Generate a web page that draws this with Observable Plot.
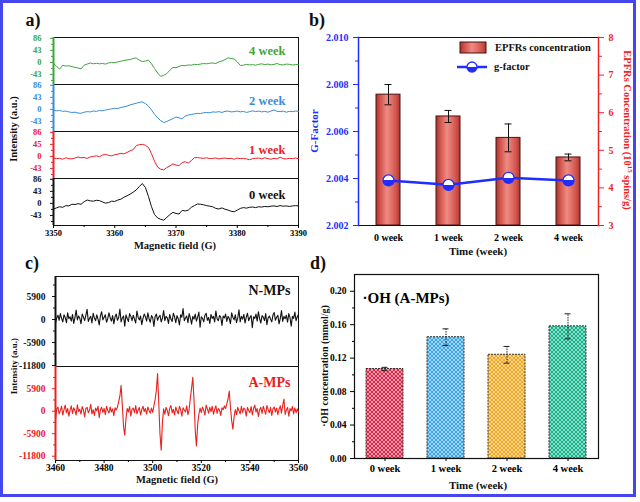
<!DOCTYPE html>
<html><head><meta charset="utf-8">
<script src="https://cdn.jsdelivr.net/npm/d3@7"></script>
<script src="https://cdn.jsdelivr.net/npm/@observablehq/plot@0.6"></script>
<style>
body{margin:0;background:#fff;}
#wrap{position:relative;width:640px;height:502px;overflow:hidden;background:#fff;font-family:"Liberation Serif","Times New Roman",serif;font-weight:bold;}
.lbl{position:absolute;white-space:nowrap;font-weight:bold;line-height:1;}
#border{position:absolute;left:0;top:0;width:636px;height:497px;box-sizing:border-box;border:3px solid #4646f0;}
</style></head>
<body>
<div id="wrap">
<svg width="0" height="0" style="position:absolute">
<defs>
<linearGradient id="epfrGrad" x1="0" y1="0" x2="1" y2="0">
<stop offset="0" stop-color="#a8362f"/><stop offset="0.18" stop-color="#d2544d"/>
<stop offset="0.45" stop-color="#ee8a82"/><stop offset="0.58" stop-color="#e77a72"/>
<stop offset="0.85" stop-color="#cf514a"/><stop offset="1" stop-color="#a8362f"/>
</linearGradient>
<linearGradient id="halfFill" x1="0" y1="0" x2="0" y2="1">
<stop offset="0" stop-color="#fff"/><stop offset="0.5" stop-color="#fff"/>
<stop offset="0.5" stop-color="#1f2dff"/><stop offset="1" stop-color="#1f2dff"/>
</linearGradient>
<pattern id="pat0" width="4" height="4" patternUnits="userSpaceOnUse"><rect width="4" height="4" fill="#e0274a"/><path d="M0,0L4,4M4,0L0,4" stroke="#fff" stroke-width="0.7" stroke-opacity="0.75"/></pattern>
<pattern id="pat1" width="4" height="4" patternUnits="userSpaceOnUse"><rect width="4" height="4" fill="#3aa6e8"/><path d="M0,0L4,4M4,0L0,4" stroke="#fff" stroke-width="0.7" stroke-opacity="0.75"/></pattern>
<pattern id="pat2" width="4" height="4" patternUnits="userSpaceOnUse"><rect width="4" height="4" fill="#f4a71c"/><path d="M0,0L4,4M4,0L0,4" stroke="#fff" stroke-width="0.7" stroke-opacity="0.75"/></pattern>
<pattern id="pat3" width="4" height="4" patternUnits="userSpaceOnUse"><rect width="4" height="4" fill="#12b38a"/><path d="M0,0L4,4M4,0L0,4" stroke="#fff" stroke-width="0.7" stroke-opacity="0.75"/></pattern>
</defs>
</svg>
<div id="border"></div>
</div>
<script>
// ---------- DATA ----------
const weeks = ["0 week", "1 week", "2 week", "4 week"];
const epfrConc = [6.48, 5.90, 5.33, 4.81];
const epfrErr = [0.27, 0.16, 0.37, 0.09];
const gFactor = [2.00392, 2.00373, 2.00403, 2.00392];
const ohConc = [0.107, 0.145, 0.124, 0.158];
const ohErr = [0.002, 0.010, 0.010, 0.015];

// panel a: EPR spectra, 3350-3390 G in 0.5 G steps
const aFieldStart = 3350, aFieldStep = 0.5;
const aWeek0 = [-20,-16,-12,-14,-8,-9,-3,-4,-1,-3,
 6,12,9,8,11,10,5,1,3,8,
 7,12,15,22,27,33,40,48,60,71,
 57,25,-12,-40,-52,-57,-60,-50,-40,-32,
 -36,-38,-25,-27,-24,-14,-8,-2,-3,-5,
 -8,-10,-12,-18,-20,-16,-21,-24,-28,-30,
 -24,-18,-15,-17,-14,-13,-15,-12,-13,-11,
 -12,-10,-9,-11,-8,-10,-9,-11,-9,-8,
 -9];
const aWeek1 = [-6,-8,-7,-10,-5,-8,-9,-6,-2,-5,
 -4,-7,-2,0,2,-1,5,7,4,2,
 6,8,11,9,14,20,24,38,42,43,
 40,32,10,-18,-38,-46,-48,-40,-34,-27,
 -31,-33,-22,-19,-24,-15,-5,-4,-6,-7,
 -5,-8,-7,-6,-9,-7,-6,-8,-7,-10,
 -6,-8,-7,-9,-12,-8,-7,-6,-9,-5,
 -8,-10,-7,-9,-3,-8,-9,-7,-8,-6,
 -8];
const aWeek2 = [-3,-5,-4,-7,-6,-9,-11,-10,-13,-14,
 -10,-8,-9,-6,-7,-4,-5,-2,0,2,
 4,3,7,9,12,16,19,22,25,27,
 21,12,-2,-18,-30,-40,-47,-43,-38,-33,
 -27,-30,-34,-24,-20,-18,-16,-14,-15,-12,
 -11,-12,-9,-10,-8,-11,-7,-6,-9,-8,
 -6,-9,-7,-11,-8,-5,-8,-6,-9,-7,
 -10,-6,-2,-7,-8,-6,-10,-7,-8,-6,
 -7];
const aWeek4 = [-4,-14,-24,-10,-13,-12,-15,-18,-20,-23,
 -10,-6,-2,-5,-3,-5,-4,-6,-2,0,
 -1,2,4,7,9,10,14,16,8,3,
 5,8,-5,-22,-38,-50,-46,-40,-28,-18,
 -19,-14,-11,-12,-9,-10,-7,-8,-6,-4,
 -5,-3,-2,-4,2,5,10,16,14,12,
 2,-11,-10,-7,-9,-8,-10,-7,-5,-8,
 -6,-9,-7,-4,-8,-9,-6,-7,-9,-8,
 -7];
const aYTicks = [86, 43, 0, -43];
const aYMinor = [64.5, 21.5, -21.5, -64.5];
const aYLabels = ["86", "43", "0", "-43"];
const aYLabels1wk = ["86", "45", "0", "-43"];
const aXTicks = [3350, 3360, 3370, 3380, 3390];
const aXMinor = [3355, 3365, 3375, 3385];

// panel c: spin-trap spectra, 3460-3560 G in 0.5 G steps
const cFieldStart = 3460, cFieldStep = 0.5;
const cNMPs = [-900,400,1100,-200,1500,300,-600,1200,500,-800,1700,200,700,-400,1300,-1000,500,2400,-100,900,
 300,-1100,1400,600,-300,1100,2600,-500,300,800,-900,1600,400,-300,1200,100,-1400,1000,2000,-100,
 600,1200,-700,200,1700,500,-400,1000,-1100,700,1400,-200,500,2700,-600,400,900,-1700,1200,300,
 -500,1500,800,-300,1100,100,-900,2200,600,-100,900,-1300,300,1400,700,-400,1700,200,-700,1000,
 500,-1800,800,1400,-200,600,1100,-600,300,2300,-300,800,400,-1000,1300,100,-500,1600,700,-800,
 1000,200,-1400,1200,600,2800,-300,400,900,-800,1500,400,-1200,800,100,1400,-400,600,1900,-2000,
 700,300,-600,1100,1600,-200,500,-1000,1300,300,800,-600,2200,200,-300,1000,600,-1500,900,400,
 1400,-500,800,300,-1100,1700,600,-100,1200,-800,400,2500,-600,800,100,1300,-900,600,1600,-300,
 500,1000,-2100,700,300,1400,-400,2000,200,-900,1000,600,-300,1500,-1300,400,900,100,-600,1200,
 1800,-200,600,1100,-1100,300,2300,-500,800,200,1100,-700,1500,500,-1700,800,300,1900,-300,700,
 1300];
const cAMPs = [-2300,600,1100,-700,200,1300,-1000,400,1600,-400,700,-1300,300,1400,-600,900,200,-1000,1700,-100,
 500,-800,1200,300,-1500,700,1000,-400,200,1800,-700,400,-1100,800,100,1300,-1700,400,1000,-300,
 700,-900,1300,200,-500,1100,-200,600,-1200,900,300,1100,2500,4000,6800,1500,-4000,-6300,-2000,700,
 -200,1200,-1300,500,800,-400,1500,-700,300,1000,-1000,400,1300,-100,700,-800,1100,200,-500,800,
 -300,1400,3000,5500,9900,2000,-6000,-10200,-3000,600,-800,1000,200,-1200,800,1500,-400,500,-1000,1100,
 100,-700,1300,400,-1300,900,300,-200,1400,-900,500,3500,6000,8900,3000,-5000,-9100,-3500,-800,800,
 -400,1100,200,-1000,1600,600,-500,1000,-100,1300,-800,400,1400,-600,700,300,-1100,900,400,1400,
 700,2000,3200,5300,1000,-2500,-4700,-1500,400,-900,1000,100,-700,1300,-300,800,500,-1300,1000,200,
 -400,1200,-1000,700,1600,-200,700,-1400,400,1000,-600,1300,200,-800,1500,400,-400,1000,-1100,600,
 1100,-200,800,-900,500,1400,-500,1600,3200,-800,300,1000,-1300,700,100,1200,-700,900,-400,600,
 -200];
const cYTicks = [5900, 0, -5900, -11800];
const cYLabels = ["5900", "0", "-5900", "-11800"];
const cYMinor = [8850, 2950, -2950, -8850];
const cXTicks = [3460, 3480, 3500, 3520, 3540, 3560];
const cXMinor = [3470, 3490, 3510, 3530, 3550];

const bLeftTicks = [2.002, 2.004, 2.006, 2.008, 2.010];
const bLeftMinor = [2.003, 2.005, 2.007, 2.009];
const bRightTicks = [3, 4, 5, 6, 7, 8];
const bRightMinor = [3.5, 4.5, 5.5, 6.5, 7.5];
const bBase = 3;
const dYTicks = [0, 0.04, 0.08, 0.12, 0.16, 0.20];
const dYMinor = [0.02, 0.06, 0.10, 0.14, 0.18];

// ---------- HELPERS ----------
const wrap = document.getElementById("wrap");
const FONT = "'Liberation Serif','Times New Roman',serif";
const baseStyle = {background: "transparent", fontFamily: FONT, fontWeight: "bold", fontSize: "10px", overflow: "visible"};
function place(el, left, top) {
  el.style.position = "absolute"; el.style.left = left + "px"; el.style.top = top + "px";
  wrap.appendChild(el);
}
function addText(html, x, y, {size = 11, color = "#111", rotate = 0, anchor = "middle"} = {}) {
  const d = document.createElement("div");
  d.className = "lbl"; d.innerHTML = html;
  d.style.left = x + "px"; d.style.top = y + "px";
  d.style.fontSize = size + "px"; d.style.color = color;
  const tx = anchor === "start" ? "0" : "-50%";
  d.style.transform = `translate(${tx},-50%) rotate(${rotate}deg)`;
  wrap.appendChild(d);
}
const toRows = (arr, start, step) => arr.map((v, i) => ({x: start + step * i, y: v}));

// ---------- PANEL A ----------
const aPanels = [
  {name: "4 week", color: "#3ea53a", values: aWeek4, labels: aYLabels},
  {name: "2 week", color: "#3a8dd6", values: aWeek2, labels: aYLabels},
  {name: "1 week", color: "#ea2229", values: aWeek1, labels: aYLabels1wk},
  {name: "0 week", color: "#111111", values: aWeek0, labels: aYLabels}
];
const aDy = [9, 12, 14, 12];
aPanels.forEach((p, i) => {
  const last = i === 3;
  const mb = last ? 26 : 0;
  const lab = new Map(aYTicks.map((t, k) => [t, p.labels[k]]));
  const marks = [
    Plot.frame({stroke: "#111", strokeWidth: 1}),
    Plot.axisY({ticks: aYTicks, tickSize: 3, tickPadding: 9, tickFormat: d => lab.get(d), color: p.color, fontSize: 8.5}),
    Plot.axisY({ticks: aYMinor, tickSize: 2, tickFormat: () => "", color: p.color}),
    Plot.line(toRows(p.values, aFieldStart, aFieldStep), {x: "x", y: "y", stroke: p.color, strokeWidth: 1}),
    Plot.text([p.name], {text: d => d, frameAnchor: "top-right", dx: -13, dy: aDy[i], fill: p.color, fontSize: 12.5, fontWeight: "bold"}),
    Plot.ruleX([aXTicks[0]], {stroke: p.color, strokeWidth: 2})
  ];
  if (last) {
    marks.push(Plot.axisX({ticks: aXTicks, tickSize: 3, tickPadding: 1, tickFormat: d => String(d), fontSize: 8.5}));
    marks.push(Plot.axisX({ticks: aXMinor, tickSize: 2, tickFormat: () => ""}));
  }
  const svg = Plot.plot({
    width: 320, height: 47 + mb, marginLeft: 53, marginRight: 22, marginTop: 0, marginBottom: mb,
    x: {domain: [3350, 3390], label: null, axis: last ? undefined : null},
    y: {domain: [-79, 89], label: null},
    style: baseStyle, marks
  });
  place(svg, 0, 37 + 47 * i);
});

// ---------- PANEL B ----------
const bData = weeks.map((w, i) => ({week: w, conc: epfrConc[i], err: epfrErr[i], g: gFactor[i]}));
const bCommon = {width: 320, height: 250, marginLeft: 38, marginRight: 42, marginTop: 37, marginBottom: 25, style: baseStyle};
const bX = {domain: weeks, paddingInner: 0.6, paddingOuter: 0.3, label: null};
const red = "#ee2424", blue = "#1f2dff";
const bBars = Plot.plot({
  ...bCommon, x: bX, y: {domain: [3, 8], label: null},
  marks: [
    Plot.barY(bData, {x: "week", y1: () => bBase, y2: "conc", fill: "url(#epfrGrad)", stroke: "#4a1210", strokeWidth: 1, clip: true}),
    Plot.ruleX(bData, {x: "week", y1: d => d.conc - d.err, y2: d => d.conc + d.err, stroke: "#111", strokeWidth: 1}),
    Plot.tickY(bData, {x: "week", y: d => d.conc + d.err, insetLeft: 8.5, insetRight: 8.5, stroke: "#111"}),
    Plot.tickY(bData, {x: "week", y: d => d.conc - d.err, insetLeft: 8.5, insetRight: 8.5, stroke: "#111"}),
    Plot.axisY({anchor: "right", ticks: bRightTicks, tickSize: 5, tickPadding: 5, tickFormat: d => String(d), color: red, fontSize: 10}),
    Plot.axisY({anchor: "right", ticks: bRightMinor, tickSize: 3, tickFormat: () => "", color: red}),
    Plot.axisX({tickSize: 0, tickPadding: 8, fontSize: 10}),
    Plot.frame({stroke: "#111", strokeWidth: 1}),
    Plot.frame({anchor: "right", stroke: red, strokeWidth: 1.5})
  ]
});
place(bBars, 320, 0);
const bG = Plot.plot({
  ...bCommon, x: {...bX, axis: null}, y: {domain: [2.002, 2.010], label: null},
  marks: [
    Plot.axisY({anchor: "left", ticks: bLeftTicks, tickSize: 5, tickPadding: 5, tickFormat: d3.format(".3f"), color: blue, fontSize: 10}),
    Plot.axisY({anchor: "left", ticks: bLeftMinor, tickSize: 3, tickFormat: () => "", color: blue}),
    Plot.line(bData, {x: "week", y: "g", stroke: blue, strokeWidth: 2.5}),
    Plot.dot(bData, {x: "week", y: "g", r: 5.5, fill: "url(#halfFill)", stroke: blue, strokeWidth: 1.3}),
    Plot.frame({anchor: "left", stroke: blue, strokeWidth: 1.5})
  ]
});
place(bG, 320, 0);
// legend
const leg = document.createElementNS("http://www.w3.org/2000/svg", "svg");
leg.setAttribute("width", 40); leg.setAttribute("height", 40);
leg.innerHTML = `<rect x="5" y="4" width="26" height="11" fill="url(#epfrGrad)" stroke="#4a1210"/>
<line x1="2" x2="32" y1="29" y2="29" stroke="${blue}" stroke-width="2.5"/>
<circle cx="17" cy="29" r="5" fill="url(#halfFill)" stroke="${blue}" stroke-width="1.3"/>`;
place(leg, 455, 38);
addText("EPFRs concentration", 495, 48, {size: 10.5, anchor: "start"});
addText("g-factor", 494, 67, {size: 10.5, anchor: "start"});

// ---------- PANEL C ----------
const cPanels = [
  {name: "N-MPs", color: "#111111", values: cNMPs, top: 276, h: 90, domain: [-12050, 11030], dy: 9},
  {name: "A-MPs", color: "#e8211e", values: cAMPs, top: 366, h: 94, domain: [-12930, 11720], dy: 11}
];
cPanels.forEach((p, i) => {
  const last = i === 1;
  const mb = last ? 26 : 0;
  const lab = new Map(cYTicks.map((t, k) => [t, cYLabels[k]]));
  const marks = [
    Plot.frame({stroke: "#111", strokeWidth: 1}),
    Plot.axisY({ticks: cYTicks, tickSize: 3, tickPadding: 7, tickFormat: d => lab.get(d), color: p.color, fontSize: 9.5}),
    Plot.axisY({ticks: cYMinor, tickSize: 2, tickFormat: () => "", color: p.color}),
    Plot.line(toRows(p.values, cFieldStart, cFieldStep), {x: "x", y: "y", stroke: p.color, strokeWidth: 1.1}),
    Plot.text([p.name], {text: d => d, frameAnchor: "top-right", dx: -8, dy: p.dy, fill: p.color, fontSize: 14, fontWeight: "bold"}),
    Plot.ruleX([cXTicks[0]], {stroke: p.color, strokeWidth: 2})
  ];
  if (last) {
    marks.push(Plot.axisX({ticks: cXTicks, tickSize: 3, tickPadding: 1, tickFormat: d => String(d), fontSize: 9.5}));
    marks.push(Plot.axisX({ticks: cXMinor, tickSize: 2, tickFormat: () => ""}));
  }
  const svg = Plot.plot({
    width: 320, height: p.h + mb, marginLeft: 55, marginRight: 22, marginTop: 0, marginBottom: mb,
    x: {domain: [3460, 3560], label: null, axis: last ? undefined : null},
    y: {domain: p.domain, label: null},
    style: baseStyle, marks
  });
  place(svg, 0, p.top);
});

// ---------- PANEL D ----------
const dData = weeks.map((w, i) => ({week: w, oh: ohConc[i], err: ohErr[i]}));
const dSvg = Plot.plot({
  width: 320, height: 236, marginLeft: 34, marginRight: 42, marginTop: 24, marginBottom: 28,
  x: {domain: weeks, paddingInner: 0.39, paddingOuter: 0.195, label: null},
  y: {domain: [0, 0.22], label: null},
  color: {domain: weeks, range: weeks.map((w, i) => `url(#pat${i})`)},
  style: baseStyle,
  marks: [
    Plot.barY(dData, {x: "week", y: "oh", fill: "week", stroke: "#333", strokeWidth: 1, strokeDasharray: "2,1"}),
    Plot.ruleX(dData, {x: "week", y1: d => d.oh - d.err, y2: d => d.oh + d.err, stroke: "#222", strokeWidth: 1, strokeDasharray: "1.5,1"}),
    Plot.tickY(dData, {x: "week", y: d => d.oh + d.err, insetLeft: 15.5, insetRight: 15.5, stroke: "#222"}),
    Plot.tickY(dData, {x: "week", y: d => d.oh - d.err, insetLeft: 15.5, insetRight: 15.5, stroke: "#222"}),
    Plot.axisY({ticks: dYTicks, tickSize: 4, tickPadding: 4, tickFormat: d3.format(".2f"), fontSize: 9.5}),
    Plot.axisY({ticks: dYMinor, tickSize: 2, tickFormat: () => ""}),
    Plot.axisX({tickSize: 3, tickPadding: 3, fontSize: 10.5}),
    Plot.text(["·OH (A-MPs)"], {text: d => d, frameAnchor: "top-left", dx: 8, dy: 18, fontSize: 15, fontWeight: "bold", textAnchor: "start"}),
    Plot.frame({stroke: "#111", strokeWidth: 1.2})
  ]
});
place(dSvg, 320, 250);

// ---------- TITLES ----------
addText("a)", 33, 20, {size: 18});
addText("b)", 317, 20, {size: 18});
addText("c)", 32, 263, {size: 18});
addText("d)", 318, 263, {size: 18});
addText("Intensity (a.u.)", 14, 129, {size: 10.5, rotate: -90});
addText("Magnetic field (G)", 175, 246, {size: 10.5});
addText("G-Factor", 314, 131, {size: 11, color: blue, rotate: -90});
addText("EPFRs Concentration (10<sup style='font-size:7px'>15</sup> spins/g)", 627, 130, {size: 10.5, color: red, rotate: 90});
addText("Time (week)", 478, 251, {size: 11});
addText("Intensity (a.u.)", 14, 366, {size: 9, rotate: -90});
addText("Magnetic field (G)", 177, 480, {size: 10.5});
addText("·OH concentration (mmol/g)", 325, 366, {size: 10, rotate: -90});
addText("Time (week)", 478, 485, {size: 11});
</script>
</body></html>
